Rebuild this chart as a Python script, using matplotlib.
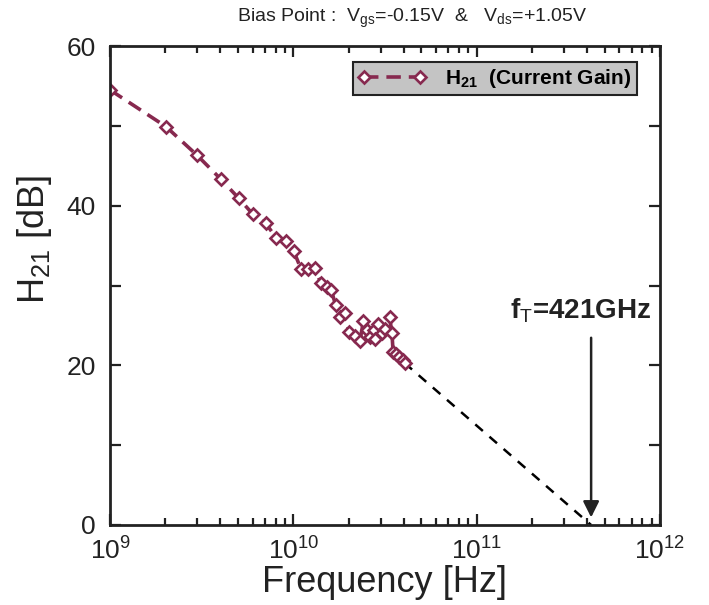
import matplotlib
matplotlib.use("Agg")
import matplotlib.pyplot as plt
from matplotlib.ticker import MultipleLocator, LogLocator, NullFormatter, FuncFormatter

plt.rcParams['font.family'] = ['Liberation Sans', 'DejaVu Sans']
plt.rcParams['mathtext.fontset'] = 'custom'
plt.rcParams['mathtext.rm'] = 'Liberation Sans'
plt.rcParams['mathtext.bf'] = 'Liberation Sans:bold'

# measured H21 (Current Gain) vs frequency
freq_hz = [1.0e9, 2.02e9, 2.99e9, 4.03e9, 5.05e9, 6.03e9, 7.07e9, 8.04e9, 9.09e9,
           1.005e10, 1.10e10, 1.20e10, 1.32e10, 1.41e10, 1.53e10, 1.61e10, 1.70e10,
           1.80e10, 1.91e10, 2.01e10, 2.18e10, 2.31e10, 2.41e10, 2.52e10, 2.62e10,
           2.74e10, 2.79e10, 2.91e10, 3.03e10, 3.16e10, 3.35e10, 3.45e10, 3.50e10,
           3.61e10, 3.76e10, 3.94e10, 4.04e10]
h21_db = [54.5, 49.9, 46.3, 43.3, 40.9, 38.9, 37.8, 36.0, 35.6,
          34.3, 32.1, 32.1, 32.2, 30.3, 29.8, 29.4, 27.6,
          26.1, 26.6, 24.2, 23.7, 23.1, 25.5, 24.4, 23.6,
          24.4, 23.3, 25.2, 24.1, 24.6, 26.0, 24.1, 21.7,
          21.4, 21.1, 20.7, 20.3]

# -20 dB/dec extrapolation down to fT
ft_hz = 4.21e11
extrap_freq = [4.04e10, ft_hz]
extrap_db = [20.3, 0.0]

maroon = '#87294f'
ink = '#222222'

fig = plt.figure(figsize=(7.09, 6.05), dpi=100)
ax = fig.add_axes([110/709, 80/605, 550/709, 479/605])

ax.plot(extrap_freq, extrap_db, color='black', lw=1.8, ls=(0, (4, 3.5)))
ax.plot(freq_hz, h21_db, color=maroon, lw=2.6, ls=(0, (4, 2.2)),
        marker='D', ms=6.5, mfc='white', mec=maroon, mew=1.9,
        label=r'$\mathbf{H}_{\mathbf{21}}$  (Current Gain)')

ax.set_xscale('log')
ax.set_xlim(1e9, 1e12)
ax.set_ylim(0, 60)

ax.xaxis.set_major_locator(LogLocator(base=10, numticks=10))
ax.xaxis.set_minor_locator(LogLocator(base=10, subs=range(2, 10), numticks=20))
ax.xaxis.set_minor_formatter(NullFormatter())
ax.yaxis.set_major_locator(MultipleLocator(10))
ax.yaxis.set_major_formatter(FuncFormatter(lambda v, p: f'{int(v)}' if int(v) % 20 == 0 else ''))

ax.tick_params(which='both', direction='in', top=True, right=True, width=1.6, colors=ink)
ax.tick_params(which='major', length=8, labelsize=19)
ax.tick_params(axis='x', which='major', pad=9)
ax.tick_params(axis='y', which='major', pad=10)
ax.tick_params(which='minor', length=5)
for s in ax.spines.values():
    s.set_linewidth(2)
    s.set_color(ink)

ax.set_xlabel('Frequency [Hz]', fontsize=26, labelpad=0, color=ink)
ax.set_ylabel(r'H$_{21}$ [dB]', fontsize=26, color=ink)
ax.yaxis.set_label_coords(-0.101, 0.597)

ax.annotate('', xy=(ft_hz, 0.6), xytext=(ft_hz, 23.8),
            arrowprops=dict(arrowstyle='-|>', color=ink, lw=1.8, mutation_scale=24))
ax.text(9.0e11, 26.9, r'f$_{\mathrm{T}}$=421GHz', fontsize=20, fontweight='bold',
        ha='right', va='center', color=ink)

leg = ax.legend(loc='upper right', bbox_to_anchor=(0.958, 0.967), borderaxespad=0,
                prop={'weight': 'bold', 'size': 15}, fancybox=False, shadow=False,
                framealpha=1, facecolor='#c4c4c4', edgecolor=ink, numpoints=2,
                handlelength=3.3, handletextpad=0.9, borderpad=0.25)
leg.get_frame().set_linewidth(1.5)

fig.text(412/709, 1 - 18/605, r'Bias Point :  V$_{\mathrm{gs}}$=-0.15V  &   V$_{\mathrm{ds}}$=+1.05V',
         fontsize=14, ha='center', va='center', color=ink)

fig.savefig('out.png', dpi=100)
